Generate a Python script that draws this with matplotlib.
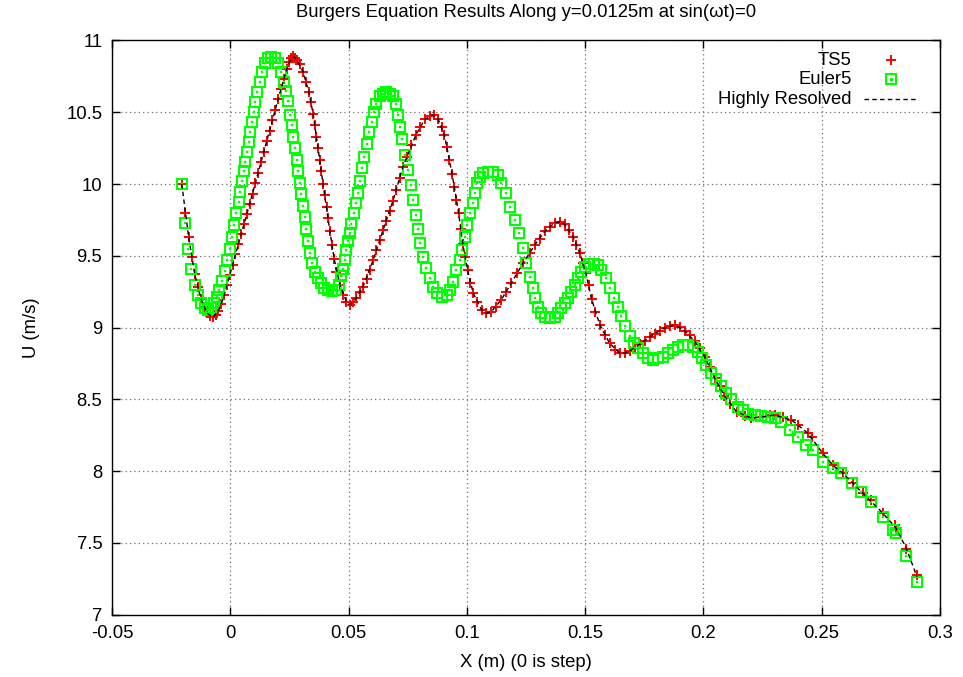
import matplotlib
matplotlib.use("Agg")
import matplotlib.pyplot as plt
from matplotlib.ticker import FixedLocator

plt.rcParams['font.family'] = ['Liberation Sans', 'DejaVu Sans']

# ---- TS5 solution (x in m, U in m/s) ----
x_ts5 = [-0.0205, -0.0190, -0.0176, -0.0163, -0.0150, -0.0137, -0.0124, -0.0111, -0.0098, -0.0086,
         -0.0074, -0.0062, -0.0050, -0.0038, -0.0026, -0.0014, -0.0002, 0.0010, 0.0022, 0.0034,
         0.0046, 0.0058, 0.0070, 0.0082, 0.0094, 0.0106, 0.0118, 0.0130, 0.0142, 0.0154,
         0.0166, 0.0178, 0.0190, 0.0202, 0.0214, 0.0226, 0.0238, 0.0248, 0.0257, 0.0265,
         0.0273, 0.0283, 0.0294, 0.0308, 0.0322, 0.0332, 0.0340, 0.0350, 0.0357, 0.0364,
         0.0371, 0.0378, 0.0385, 0.0392, 0.0399, 0.0407, 0.0413, 0.0421, 0.0428, 0.0439,
         0.0449, 0.0463, 0.0477, 0.0491, 0.0505, 0.0519, 0.0533, 0.0547, 0.0561, 0.0576,
         0.0590, 0.0604, 0.0618, 0.0632, 0.0646, 0.0660, 0.0674, 0.0688, 0.0702, 0.0716,
         0.0730, 0.0747, 0.0766, 0.0784, 0.0801, 0.0822, 0.0843, 0.0860, 0.0878, 0.0893,
         0.0905, 0.0915, 0.0926, 0.0937, 0.0947, 0.0956, 0.0965, 0.0974, 0.0983, 0.0993,
         0.1003, 0.1014, 0.1027, 0.1043, 0.1062, 0.1083, 0.1104, 0.1125, 0.1146, 0.1167,
         0.1188, 0.1210, 0.1238, 0.1266, 0.1287, 0.1308, 0.1329, 0.1350, 0.1371, 0.1392,
         0.1413, 0.1432, 0.1449, 0.1463, 0.1477, 0.1491, 0.1503, 0.1515, 0.1527, 0.1541,
         0.1562, 0.1583, 0.1604, 0.1625, 0.1646, 0.1668, 0.1689, 0.1710, 0.1731, 0.1752,
         0.1773, 0.1794, 0.1815, 0.1836, 0.1858, 0.1879, 0.1900, 0.1921, 0.1942, 0.1963,
         0.1984, 0.2005, 0.2026, 0.2047, 0.2068, 0.2089, 0.2111, 0.2140, 0.2175, 0.2203,
         0.2252, 0.2280, 0.2301, 0.2336, 0.2372, 0.2400, 0.2442, 0.2457, 0.2505, 0.2548,
         0.2590, 0.2632, 0.2674, 0.2710, 0.2759, 0.2808, 0.2816, 0.2858, 0.2903]
u_ts5 = [10.000, 9.800, 9.630, 9.490, 9.370, 9.280, 9.200, 9.140, 9.100, 9.080,
         9.074, 9.088, 9.118, 9.165, 9.228, 9.297, 9.368, 9.439, 9.510, 9.580,
         9.650, 9.720, 9.790, 9.862, 9.933, 10.006, 10.079, 10.152, 10.226, 10.299,
         10.372, 10.445, 10.518, 10.591, 10.660, 10.730, 10.800, 10.850, 10.877, 10.890,
         10.880, 10.862, 10.835, 10.780, 10.710, 10.640, 10.570, 10.490, 10.410, 10.330,
         10.250, 10.170, 10.090, 10.000, 9.920, 9.840, 9.760, 9.670, 9.575, 9.480,
         9.390, 9.300, 9.230, 9.180, 9.160, 9.180, 9.205, 9.245, 9.285, 9.340,
         9.400, 9.470, 9.540, 9.610, 9.680, 9.745, 9.815, 9.885, 9.960, 10.040,
         10.120, 10.190, 10.270, 10.340, 10.400, 10.450, 10.475, 10.480, 10.455, 10.400,
         10.340, 10.260, 10.170, 10.070, 9.980, 9.890, 9.800, 9.690, 9.580, 9.490,
         9.400, 9.310, 9.240, 9.175, 9.125, 9.100, 9.112, 9.145, 9.195, 9.250,
         9.310, 9.380, 9.450, 9.520, 9.575, 9.620, 9.670, 9.700, 9.730, 9.737,
         9.720, 9.680, 9.633, 9.575, 9.520, 9.450, 9.380, 9.300, 9.200, 9.110,
         9.020, 8.950, 8.890, 8.844, 8.822, 8.822, 8.838, 8.860, 8.885, 8.910,
         8.935, 8.958, 8.978, 8.998, 9.014, 9.018, 9.005, 8.978, 8.945, 8.905,
         8.858, 8.797, 8.728, 8.650, 8.590, 8.525, 8.465, 8.414, 8.382, 8.370,
         8.380, 8.388, 8.390, 8.380, 8.357, 8.320, 8.264, 8.240, 8.124, 8.040,
         7.985, 7.916, 7.846, 7.800, 7.707, 7.624, 7.600, 7.460, 7.276]

# ---- Euler5 solution ----
x_euler5 = [-0.0205, -0.0192, -0.0178, -0.0164, -0.0150, -0.0136, -0.0122, -0.0108, -0.0094, -0.0080,
            -0.0068, -0.0058, -0.0046, -0.0035, -0.0024, -0.0013, -0.0003, 0.0006, 0.0016, 0.0026,
            0.0035, 0.0043, 0.0050, 0.0057, 0.0064, 0.0071, 0.0078, 0.0085, 0.0092, 0.0099,
            0.0106, 0.0114, 0.0124, 0.0135, 0.0146, 0.0160, 0.0174, 0.0188, 0.0202, 0.0216,
            0.0228, 0.0236, 0.0244, 0.0252, 0.0259, 0.0266, 0.0273, 0.0280, 0.0287, 0.0294,
            0.0301, 0.0308, 0.0315, 0.0322, 0.0329, 0.0336, 0.0346, 0.0357, 0.0371, 0.0383,
            0.0396, 0.0413, 0.0428, 0.0445, 0.0459, 0.0470, 0.0477, 0.0484, 0.0491, 0.0498,
            0.0505, 0.0512, 0.0522, 0.0530, 0.0538, 0.0547, 0.0556, 0.0566, 0.0576, 0.0587,
            0.0597, 0.0608, 0.0618, 0.0632, 0.0646, 0.0660, 0.0674, 0.0688, 0.0700, 0.0709,
            0.0716, 0.0727, 0.0738, 0.0750, 0.0762, 0.0773, 0.0784, 0.0794, 0.0804, 0.0815,
            0.0829, 0.0843, 0.0857, 0.0872, 0.0893, 0.0914, 0.0928, 0.0942, 0.0956, 0.0970,
            0.0981, 0.0991, 0.1001, 0.1012, 0.1024, 0.1033, 0.1043, 0.1055, 0.1068, 0.1090,
            0.1111, 0.1132, 0.1146, 0.1164, 0.1181, 0.1202, 0.1221, 0.1238, 0.1252, 0.1266,
            0.1280, 0.1290, 0.1301, 0.1315, 0.1329, 0.1350, 0.1371, 0.1385, 0.1400, 0.1414,
            0.1428, 0.1442, 0.1456, 0.1470, 0.1484, 0.1498, 0.1516, 0.1536, 0.1555, 0.1569,
            0.1587, 0.1604, 0.1621, 0.1637, 0.1653, 0.1670, 0.1689, 0.1707, 0.1724, 0.1745,
            0.1766, 0.1787, 0.1808, 0.1829, 0.1850, 0.1872, 0.1893, 0.1914, 0.1935, 0.1956,
            0.1977, 0.1995, 0.2013, 0.2034, 0.2055, 0.2076, 0.2097, 0.2118, 0.2146, 0.2168,
            0.2189, 0.2217, 0.2245, 0.2273, 0.2301, 0.2330, 0.2364, 0.2400, 0.2435, 0.2463,
            0.2505, 0.2548, 0.2583, 0.2626, 0.2668, 0.2710, 0.2759, 0.2801, 0.2813, 0.2855,
            0.2903]
u_euler5 = [10.000, 9.726, 9.545, 9.408, 9.297, 9.227, 9.170, 9.134, 9.123, 9.134,
            9.170, 9.215, 9.265, 9.325, 9.395, 9.470, 9.550, 9.630, 9.714, 9.796,
            9.877, 9.946, 10.020, 10.090, 10.155, 10.225, 10.295, 10.364, 10.434, 10.503,
            10.573, 10.642, 10.712, 10.782, 10.840, 10.875, 10.886, 10.875, 10.840, 10.782,
            10.710, 10.650, 10.580, 10.480, 10.410, 10.330, 10.250, 10.170, 10.090, 10.010,
            9.930, 9.850, 9.770, 9.685, 9.600, 9.520, 9.448, 9.389, 9.343, 9.308,
            9.278, 9.262, 9.255, 9.262, 9.297, 9.360, 9.410, 9.470, 9.540, 9.600,
            9.660, 9.720, 9.800, 9.870, 9.940, 10.020, 10.110, 10.190, 10.280, 10.360,
            10.430, 10.500, 10.560, 10.610, 10.630, 10.640, 10.630, 10.610, 10.560, 10.480,
            10.400, 10.310, 10.200, 10.100, 9.995, 9.890, 9.785, 9.685, 9.590, 9.494,
            9.413, 9.343, 9.285, 9.240, 9.215, 9.227, 9.262, 9.320, 9.400, 9.470,
            9.540, 9.633, 9.714, 9.796, 9.866, 9.935, 10.005, 10.050, 10.074, 10.086,
            10.086, 10.063, 10.005, 9.935, 9.840, 9.750, 9.657, 9.552, 9.448, 9.355,
            9.274, 9.204, 9.146, 9.100, 9.076, 9.065, 9.076, 9.100, 9.134, 9.170,
            9.204, 9.250, 9.297, 9.343, 9.390, 9.424, 9.443, 9.443, 9.436, 9.400,
            9.343, 9.274, 9.204, 9.140, 9.080, 9.010, 8.940, 8.890, 8.856, 8.821,
            8.786, 8.774, 8.786, 8.797, 8.821, 8.844, 8.867, 8.879, 8.879, 8.867,
            8.830, 8.790, 8.740, 8.685, 8.640, 8.590, 8.545, 8.505, 8.450, 8.426,
            8.400, 8.390, 8.384, 8.380, 8.368, 8.345, 8.287, 8.240, 8.182, 8.148,
            8.066, 8.020, 7.985, 7.916, 7.857, 7.788, 7.683, 7.590, 7.567, 7.410,
            7.230]

# ---- Highly resolved reference solution ----
x_fine = [-0.0205, -0.0176, -0.0150, -0.0124, -0.0098, -0.0074, -0.0050, -0.0026, -0.0002, 0.0034,
          0.0070, 0.0106, 0.0142, 0.0178, 0.0214, 0.0238, 0.0257, 0.0270, 0.0283, 0.0308,
          0.0332, 0.0350, 0.0371, 0.0392, 0.0413, 0.0439, 0.0463, 0.0491, 0.0505, 0.0533,
          0.0561, 0.0604, 0.0646, 0.0688, 0.0730, 0.0784, 0.0822, 0.0855, 0.0878, 0.0905,
          0.0926, 0.0947, 0.0965, 0.0983, 0.1003, 0.1027, 0.1062, 0.1083, 0.1104, 0.1146,
          0.1188, 0.1238, 0.1287, 0.1329, 0.1371, 0.1392, 0.1413, 0.1449, 0.1477, 0.1503,
          0.1527, 0.1562, 0.1604, 0.1646, 0.1668, 0.1710, 0.1752, 0.1794, 0.1836, 0.1879,
          0.1921, 0.1963, 0.2005, 0.2047, 0.2089, 0.2140, 0.2203, 0.2252, 0.2301, 0.2372,
          0.2442, 0.2505, 0.2548, 0.2590, 0.2674, 0.2759, 0.2816, 0.2858, 0.2903]
u_fine = [10.000, 9.630, 9.370, 9.200, 9.100, 9.072, 9.115, 9.225, 9.368, 9.580,
          9.790, 10.006, 10.226, 10.445, 10.660, 10.800, 10.875, 10.885, 10.862, 10.780,
          10.640, 10.490, 10.250, 10.000, 9.760, 9.480, 9.300, 9.180, 9.160, 9.205,
          9.285, 9.470, 9.680, 9.885, 10.120, 10.340, 10.450, 10.480, 10.455, 10.340,
          10.170, 9.980, 9.800, 9.580, 9.400, 9.240, 9.125, 9.100, 9.112, 9.195,
          9.310, 9.450, 9.575, 9.670, 9.730, 9.737, 9.720, 9.633, 9.520, 9.380,
          9.200, 9.020, 8.890, 8.822, 8.822, 8.860, 8.910, 8.958, 8.998, 9.018,
          8.978, 8.905, 8.797, 8.650, 8.525, 8.414, 8.370, 8.380, 8.390, 8.357,
          8.264, 8.124, 8.040, 7.985, 7.846, 7.707, 7.600, 7.460, 7.265]

# ---- axes ticks ----
x_ticks = [-0.05, 0.0, 0.05, 0.1, 0.15, 0.2, 0.25, 0.3]
x_tick_labels = ["-0.05", "0", "0.05", "0.1", "0.15", "0.2", "0.25", "0.3"]
y_ticks = [7.0, 7.5, 8.0, 8.5, 9.0, 9.5, 10.0, 10.5, 11.0]
y_tick_labels = ["7", "7.5", "8", "8.5", "9", "9.5", "10", "10.5", "11"]

series_names = ["TS5", "Euler5", "Highly Resolved"]

RED = "#ff0000"
GREEN = "#00ff00"
FS = 13.3

fig = plt.figure(figsize=(9.63, 6.77), dpi=100)
ax = fig.add_axes([0.1163, 0.0919, 0.8598, 0.8484])

ax.plot(x_ts5, u_ts5, linestyle="none", marker="+", markersize=7.5,
        markeredgewidth=1.4, color=RED, zorder=3)
ax.plot(x_euler5, u_euler5, linestyle="none", marker="s", markersize=7.0,
        markerfacecolor="none", markeredgecolor=GREEN, markeredgewidth=1.5, zorder=4)
ax.plot(x_euler5, u_euler5, linestyle="none", marker="s", markersize=1.5,
        markerfacecolor=GREEN, markeredgecolor=GREEN, markeredgewidth=0.3, zorder=4)
ax.plot(x_fine, u_fine, color="black", linewidth=1.0, dashes=(3.2, 2.4), zorder=5)

ax.set_xlim(-0.05, 0.3)
ax.set_ylim(7.0, 11.0)
ax.xaxis.set_major_locator(FixedLocator(x_ticks))
ax.yaxis.set_major_locator(FixedLocator(y_ticks))
ax.set_xticklabels(x_tick_labels)
ax.set_yticklabels(y_tick_labels)

ax.tick_params(direction="in", length=6, width=1, top=True, right=True,
               labelsize=FS, pad=7, colors="black")
ax.grid(True, color="#707070", linestyle=(0, (1, 2.5)), linewidth=0.9)
for sp in ax.spines.values():
    sp.set_linewidth(1.0)
    sp.set_color("black")

ax.set_xlabel("X (m) (0 is step)", fontsize=FS, labelpad=9)
ax.set_ylabel("U (m/s)", fontsize=FS, labelpad=19)
ax.set_title("Burgers Equation Results Along y=0.0125m at sin(\u03c9t)=0",
             fontsize=FS, pad=17)

# key in the upper right: labels right-aligned, samples to their right
key_y = [0.9659, 0.9323, 0.8975]
tx = 0.8934
for name, yy in zip(series_names, key_y):
    ax.text(tx, yy, name, transform=ax.transAxes, ha="right", va="center", fontsize=FS)
ax.plot([0.9408], [key_y[0]], transform=ax.transAxes, marker="+", markersize=7.5,
        markeredgewidth=1.4, color=RED, linestyle="none", clip_on=False)
ax.plot([0.9408], [key_y[1]], transform=ax.transAxes, marker="s", markersize=7.0,
        markerfacecolor="none", markeredgecolor=GREEN, markeredgewidth=1.5,
        linestyle="none", clip_on=False)
ax.plot([0.9408], [key_y[1]], transform=ax.transAxes, marker="s", markersize=1.5,
        color=GREEN, linestyle="none", clip_on=False)
ax.plot([0.9082, 0.9734], [key_y[2], key_y[2]], transform=ax.transAxes,
        color="black", linewidth=1.0, dashes=(3.2, 2.4), clip_on=False)

fig.savefig("out.png", dpi=100)
